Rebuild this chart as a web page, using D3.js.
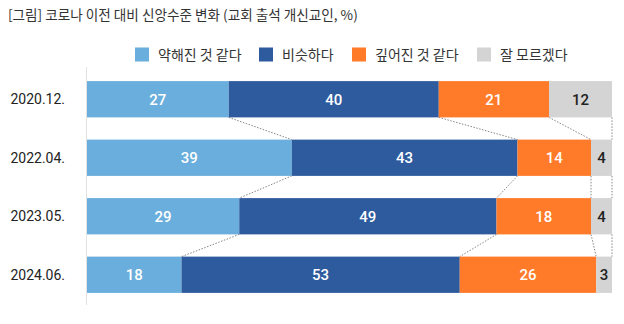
<!DOCTYPE html>
<html><head><meta charset="utf-8">
<script src="https://cdn.jsdelivr.net/npm/d3@7"></script>
<style>body{margin:0;background:#fff}svg{display:block;font-family:"Noto Sans CJK KR","Noto Sans",sans-serif}</style>
</head><body><svg id="c" width="624" height="324"></svg>
<script>
const title = "[그림] 코로나 이전 대비 신앙수준 변화 (교회 출석 개신교인, %)";
const categories = ["2020.12.", "2022.04.", "2023.05.", "2024.06."];
const seriesNames = ["약해진 것 같다", "비슷하다", "깊어진 것 같다", "잘 모르겠다"];
const weakened = [27, 39, 29, 18];
const similar = [40, 43, 49, 53];
const deepened = [21, 14, 18, 26];
const unsure = [12, 4, 4, 3];
const colors = ["#69AEDC", "#2D5B9E", "#FF7A29", "#D4D4D4"];
const labelColors = ["#fff", "#fff", "#fff", "#222"];

const seriesVals = [weakened, similar, deepened, unsure];
const rows = categories.map((c, i) => {
  const o = {cat: c};
  seriesNames.forEach((s, j) => o[s] = seriesVals[j][i]);
  return o;
});
const stacked = d3.stack().keys(seriesNames)(rows);

const svg = d3.select("#c");
const x = d3.scaleLinear().domain([0, 100]).range([87, 612]);
const y = d3.scaleBand().domain(categories).range([70, 304]).paddingInner(0.38).paddingOuter(0.19);

svg.append("text").attr("x", 8).attr("y", 20).attr("font-size", 13.6).attr("fill", "#333").text(title);

// legend
const legX = [135, 259, 352, 477];
const leg = svg.append("g");
seriesNames.forEach((s, i) => {
  leg.append("rect").attr("x", legX[i]).attr("y", 47.5).attr("width", 14).attr("height", 14).attr("fill", colors[i]);
  leg.append("text").attr("x", legX[i] + 23).attr("y", 60).attr("font-size", 14).attr("fill", "#333").text(s);
});

// axis line
svg.append("line").attr("x1", 86.5).attr("x2", 86.5).attr("y1", 67).attr("y2", 305).attr("stroke", "#e2e2e2").attr("stroke-width", 1);

// connectors
const g = svg.append("g");
for (let i = 0; i < categories.length - 1; i++) {
  stacked.forEach(layer => {
    const a = layer[i][1], b = layer[i + 1][1];
    g.append("line")
      .attr("x1", x(a)).attr("y1", y(categories[i]) + y.bandwidth())
      .attr("x2", x(b)).attr("y2", y(categories[i + 1]))
      .attr("stroke", "#777").attr("stroke-width", 0.9).attr("stroke-dasharray", "1.5,1.5");
  });
}

// bars
stacked.forEach((layer, j) => {
  const lg = svg.append("g");
  lg.selectAll("rect").data(layer).join("rect")
    .attr("x", d => x(d[0])).attr("y", d => y(d.data.cat))
    .attr("width", d => x(d[1]) - x(d[0])).attr("height", y.bandwidth())
    .attr("fill", colors[j]);
  lg.selectAll("text").data(layer).join("text")
    .attr("x", d => (x(d[0]) + x(d[1])) / 2)
    .attr("y", d => y(d.data.cat) + y.bandwidth() / 2 + 5.5)
    .attr("text-anchor", "middle").attr("font-size", 15).attr("font-weight", 500)
    .attr("font-family", "Roboto, 'Noto Sans', sans-serif")
    .attr("fill", labelColors[j])
    .text(d => d[1] - d[0]);
});

// category labels
svg.append("g").selectAll("text").data(categories).join("text")
  .attr("x", 65).attr("y", d => y(d) + y.bandwidth() / 2 + 5)
  .attr("text-anchor", "end").attr("font-size", 14).attr("fill", "#222")
  .attr("font-family", "Roboto, 'Noto Sans', sans-serif")
  .text(d => d);
</script></body></html>
